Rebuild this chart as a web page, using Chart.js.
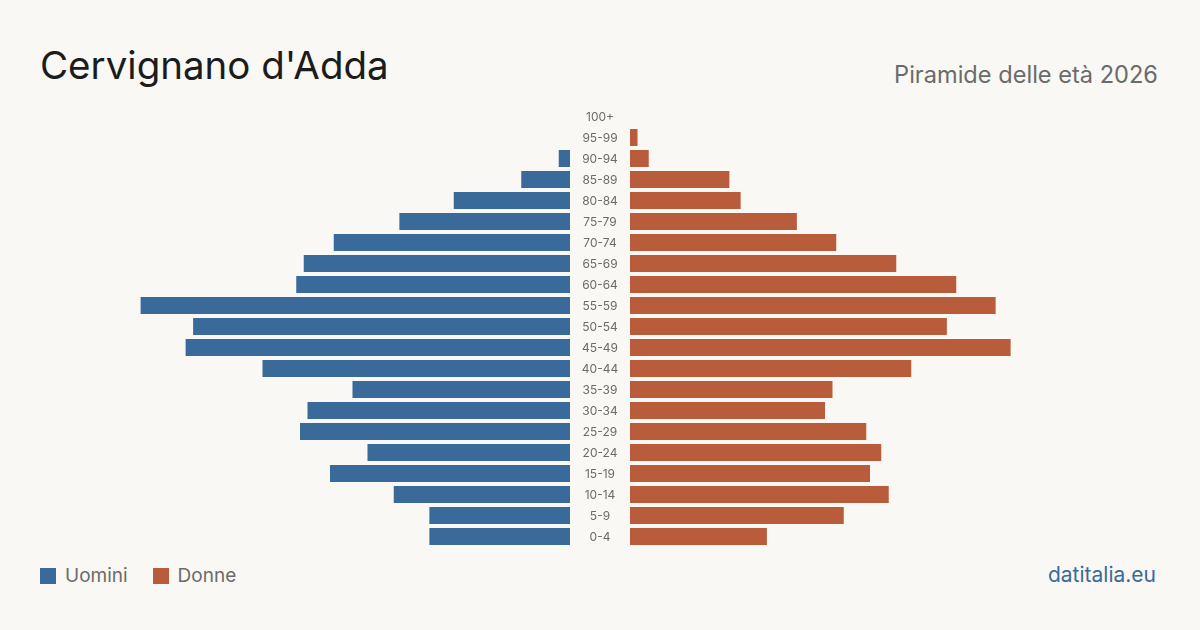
<!DOCTYPE html>
<html>
<head>
<meta charset="utf-8">
<script src="https://cdn.jsdelivr.net/npm/chart.js@4/dist/chart.umd.min.js"></script>
<style>
  html, body { margin:0; padding:0; }
  body { width:1200px; height:630px; background:#f9f8f4; position:relative; overflow:hidden; font-family:"Inter", "Liberation Sans", sans-serif; }
  #title { position:absolute; left:40px; top:40px; font-size:38.5px; color:#1c1c1c; line-height:50px; white-space:nowrap; }
  #subtitle { position:absolute; right:42px; top:59px; font-size:23.6px; color:#6b6b6b; line-height:32px; white-space:nowrap; }
  #legend { position:absolute; left:40px; top:563px; font-size:19px; color:#6b6b6b; line-height:26px; display:flex; align-items:center; white-space:nowrap; }
  .item { display:flex; align-items:center; margin-right:25px; }
  .sw { width:16px; height:16px; margin-right:9px; }
  #source { position:absolute; right:44px; top:561px; font-size:21px; color:#3a6a9a; line-height:28px; white-space:nowrap; }
  #wrap { position:absolute; left:100px; top:106px; width:1000px; height:441px; }
</style>
</head>
<body>
<div id="title">Cervignano d'Adda</div>
<div id="subtitle">Piramide delle età 2026</div>
<div id="wrap"><canvas id="c"></canvas></div>
<div id="legend">
  <div class="item"><div class="sw" style="background:#3a6a9a"></div>Uomini</div>
  <div class="item"><div class="sw" style="background:#b95c3b"></div>Donne</div>
</div>
<div id="source">datitalia.eu</div>
<script>
const ageGroups = ["100+","95-99","90-94","85-89","80-84","75-79","70-74","65-69","60-64","55-59","50-54","45-49","40-44","35-39","30-34","25-29","20-24","15-19","10-14","5-9","0-4"];
const men   = [0, 0, 3, 13, 31, 45.5, 63, 71, 73, 114.5, 100.5, 102.5, 82, 58, 70, 72, 54, 64, 47, 37.5, 37.5];
const women = [0, 2, 5, 26.5, 29.5, 44.5, 55, 71, 87, 97.5, 84.5, 101.5, 75, 54, 52, 63, 67, 64, 69, 57, 36.5];
const seriesNames = ["Uomini", "Donne"];
const colors = ["#3a6a9a", "#b95c3b"];

const GAP = 8;          // half-gap around the central labels, in data units
const HALF = 133.33;    // half-width of the x scale

const centerLabels = {
  id: 'centerLabels',
  afterDatasetsDraw(chart) {
    const ctx = chart.ctx;
    const ys = chart.scales.y;
    const xs = chart.scales.x;
    const cx = xs.getPixelForValue(0);
    ctx.save();
    ctx.font = '12px "Inter", "Liberation Sans", sans-serif';
    ctx.fillStyle = '#6b6b6b';
    ctx.textAlign = 'center';
    ctx.textBaseline = 'middle';
    ageGroups.forEach((g, i) => ctx.fillText(g, cx, ys.getPixelForValue(i) + 0.5));
    ctx.restore();
  }
};

new Chart(document.getElementById('c'), {
  type: 'bar',
  data: {
    labels: ageGroups,
    datasets: [
      { label: seriesNames[0], data: men.map(v => v > 0 ? [-GAP - v, -GAP] : null), backgroundColor: colors[0], borderWidth: 0 },
      { label: seriesNames[1], data: women.map(v => v > 0 ? [GAP, GAP + v] : null), backgroundColor: colors[1], borderWidth: 0 }
    ]
  },
  options: {
    indexAxis: 'y',
    responsive: true,
    maintainAspectRatio: false,
    animation: false,
    layout: { padding: 0 },
    plugins: { legend: { display: false }, tooltip: { enabled: false } },
    scales: {
      x: { display: false, min: -HALF, max: HALF },
      y: { display: false, stacked: true }
    },
    datasets: { bar: { barPercentage: 0.81, categoryPercentage: 1 } }
  },
  plugins: [centerLabels]
});
</script>
</body>
</html>
